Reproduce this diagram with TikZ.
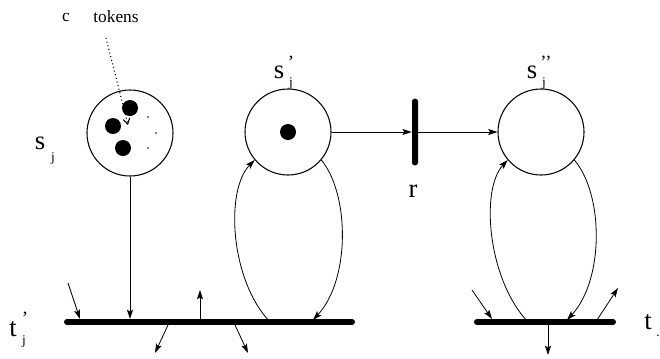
\documentclass[tikz,border=0pt]{standalone}
\usepackage{fontspec}
\setmainfont{Liberation Serif}
\usetikzlibrary{arrows.meta}
\begin{document}
\begin{tikzpicture}[x=0.75pt,y=-0.75pt,
  place/.style={draw, circle, minimum size=64.5pt, inner sep=0pt, line width=0.8pt},
  token/.style={fill, circle, minimum size=12pt, inner sep=0pt},
  smalldot/.style={fill, circle, minimum size=1.2pt, inner sep=0pt},
  tbar/.style={line width=4.5pt, line cap=round},
  arc/.style={-{Stealth[length=7pt,width=4.5pt,inset=1.5pt]}, line width=0.6pt},
  big/.style={font=\fontsize{20}{22}\selectfont, inner sep=0pt},
  sub/.style={font=\fontsize{10}{11}\selectfont, inner sep=0pt},
  prime/.style={font=\fontsize{14}{15}\selectfont, inner sep=0pt},
  small/.style={font=\fontsize{13}{14}\selectfont, inner sep=0pt},
  ]
\useasboundingbox (0,0) rectangle (660,358);
% places
\node[place] (sj) at (130,133) {};
\node[place] (sp) at (288,132) {};
\node[place] (spp) at (541,132) {};
% tokens
\node[token] (k1) at (130,108) {};
\node[token] (k2) at (113,126) {};
\node[token] (k3) at (123,148) {};
\node[token] (k4) at (288,132) {};
\node[smalldot] (d1) at (148,117) {};
\node[smalldot] (d2) at (156,133) {};
\node[smalldot] (d3) at (148,148) {};
% transition r
\node[fill, rounded corners=2pt, minimum width=4.5pt, minimum height=50pt, inner sep=0pt] (r) at (415,132) {};
% bars
\coordinate (ta) at (67,322);
\coordinate (tb) at (352,322);
\coordinate (tc) at (477,322);
\coordinate (td) at (613,322);
\draw[tbar] (ta) -- (tb);
\draw[tbar] (tc) -- (td);
% labels
\node[small] (c) at (66,17) {c};
\node[small] (tok) at (116,17) {tokens};
\node[big] (ls) at (40,143) {s};
\node[sub] (lsj) at (53,158) {j};
\node[big] (lsp) at (279,72) {s};
\node[prime] (lspa) at (291,62) {’};
\node[sub] (lspj) at (291,83) {j};
\node[big] (lspp) at (532,72) {s};
\node[prime] (lsppa) at (546,62) {’’};
\node[sub] (lsppj) at (544,83) {j};
\node[big] (lr) at (413,191) {r};
\node[big] (lt) at (13,329) {t};
\node[prime] (lta) at (25,318) {’};
\node[sub] (ltj) at (24,341) {j};
\node[big] (lt2) at (648,322) {t};
\node[sub] (lt2d) at (658,336) {.};
% dotted pointer
\coordinate (dp0) at (106,38);
\coordinate (dp1) at (128,125);
\draw[dotted, line width=0.8pt, -{Straight Barb[length=4pt,width=5pt]}] (dp0) -- (dp1);
% main arcs
\draw[arc] (sp) -- (r);
\draw[arc] (r) -- (spp);
\coordinate (sjb) at (130,319);
\draw[arc] (sj.south) -- (sjb);
% loop s'
\coordinate (la0) at (270,322);
\coordinate (la1) at (313,320);
\draw[arc] (la0) .. controls (230,280) and (225,190) .. (sp.220);
\draw[arc] (sp.-40) .. controls (350,195) and (350,280) .. (la1);
% loop s''
\coordinate (lb0) at (528,322);
\coordinate (lb1) at (567,320);
\draw[arc] (lb0) .. controls (488,280) and (480,190) .. (spp.220);
\draw[arc] (spp.-40) .. controls (604,195) and (604,280) .. (lb1);
% other arcs at t'_j
\coordinate (a0) at (68,283); \coordinate (a1) at (80,319);
\draw[arc] (a0) -- (a1);
\coordinate (b0) at (200,322); \coordinate (b1) at (200,290);
\draw[arc] (b0) -- (b1);
\coordinate (c0) at (168,325); \coordinate (c1) at (155,353);
\draw[arc] (c0) -- (c1);
\coordinate (e0) at (235,325); \coordinate (e1) at (248,353);
\draw[arc] (e0) -- (e1);
% other arcs at t
\coordinate (f0) at (472,290); \coordinate (f1) at (492,319);
\draw[arc] (f0) -- (f1);
\coordinate (g0) at (597,320); \coordinate (g1) at (618,288);
\draw[arc] (g0) -- (g1);
\coordinate (h0) at (548,325); \coordinate (h1) at (548,355);
\draw[arc] (h0) -- (h1);
\end{tikzpicture}
\end{document}
